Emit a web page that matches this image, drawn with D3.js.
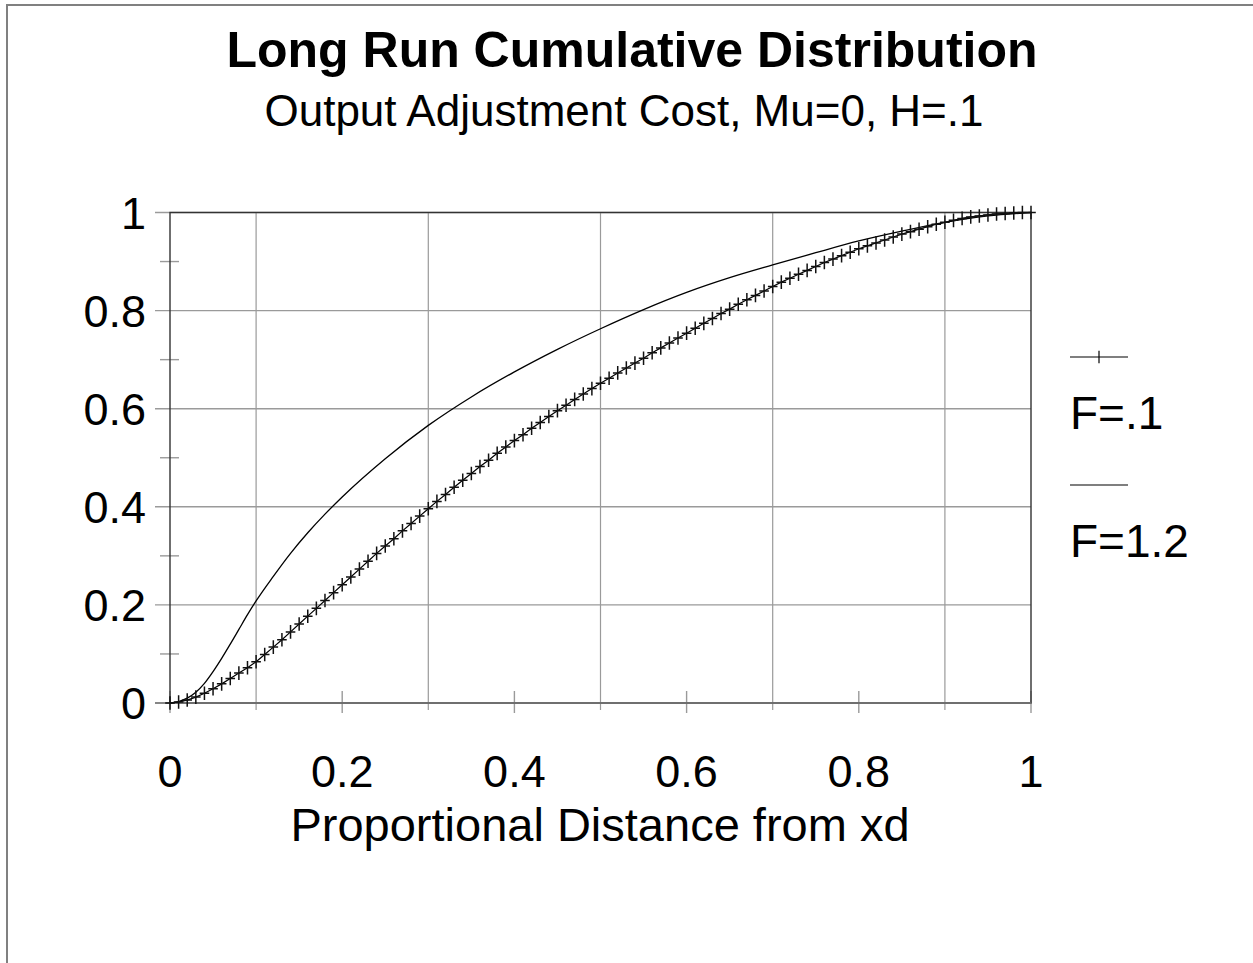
<!DOCTYPE html>
<html lang="en">
<head>
    <meta charset="UTF-8">
    <title>Long Run Cumulative Distribution</title>
    <script src="https://d3js.org/d3.v7.min.js"></script>
    <style>
        body { margin: 0; background: #fff; }
        svg { display: block; background: #fff; }
        text { font-family: "Liberation Sans", Arial, sans-serif; fill: #000; }
    </style>
</head>
<body>
    <svg width="1253" height="963"></svg>

    <script>
        // data
        const xTicks = [0, 0.2, 0.4, 0.6, 0.8, 1];
        const xLabels = ["0", "0.2", "0.4", "0.6", "0.8", "1"];
        const xGrid = [0.1, 0.3, 0.5, 0.7, 0.9];
        const yTicks = [0, 0.2, 0.4, 0.6, 0.8, 1];
        const yLabels = ["0", "0.2", "0.4", "0.6", "0.8", "1"];
        const yMinor = [0.1, 0.3, 0.5, 0.7, 0.9];

        const seriesNames = ["F=.1", "F=1.2"];

        // F=.1, one marker every 0.01
        const xF1 = [0, .01, .02, .03, .04, .05, .06, .07, .08, .09,
            .10, .11, .12, .13, .14, .15, .16, .17, .18, .19,
            .20, .21, .22, .23, .24, .25, .26, .27, .28, .29,
            .30, .31, .32, .33, .34, .35, .36, .37, .38, .39,
            .40, .41, .42, .43, .44, .45, .46, .47, .48, .49,
            .50, .51, .52, .53, .54, .55, .56, .57, .58, .59,
            .60, .61, .62, .63, .64, .65, .66, .67, .68, .69,
            .70, .71, .72, .73, .74, .75, .76, .77, .78, .79,
            .80, .81, .82, .83, .84, .85, .86, .87, .88, .89,
            .90, .91, .92, .93, .94, .95, .96, .97, .98, .99, 1];
        const yF1 = [0, .002, .006, .012, .020, .029, .039, .050, .061, .072,
            .084, .099, .114, .129, .145, .161, .177, .193, .209, .225,
            .241, .257, .273, .289, .305, .320, .335, .351, .366, .381,
            .396, .411, .425, .440, .454, .468, .482, .495, .509, .522,
            .535, .547, .560, .572, .584, .596, .607, .619, .630, .641,
            .652, .662, .673, .683, .693, .703, .714, .724, .734, .744,
            .754, .764, .774, .784, .794, .803, .813, .822, .831, .840,
            .849, .858, .866, .874, .882, .890, .898, .905, .912, .919,
            .926, .932, .938, .944, .950, .956, .961, .966, .971, .976,
            .980, .984, .988, .991, .993, .995, .997, .998, .999, 1, 1];

        // F=1.2, plain line
        const xF12 = [0, .01, .02, .03, .04, .05, .06, .07, .08, .09, .10, .12, .14, .16, .18, .20,
            .25, .30, .35, .40, .45, .50, .55, .60, .65, .70, .75, .80, .85, .90, .95, 1];
        const yF12 = [0, .003, .010, .022, .040, .064, .091, .120, .150, .180, .208, .258, .305, .347, .385, .420,
            .498, .566, .624, .675, .721, .763, .802, .837, .867, .893, .918, .942, .962, .980, .993, 1];

        const svg = d3.select("svg");
        const x = d3.scaleLinear().domain([0, 1]).range([170, 1031]);
        const y = d3.scaleLinear().domain([0, 1]).range([703, 212.5]);
        const gridColor = "#9a9a9a";

        // outer frame (only left and top edges are visible)
        svg.append("path")
            .attr("d", "M7,963 V5 H1253")
            .attr("fill", "none")
            .attr("stroke", "#808080")
            .attr("stroke-width", 2);

        // titles
        svg.append("text")
            .attr("x", 632).attr("y", 67)
            .attr("text-anchor", "middle")
            .style("font-size", "50px").style("font-weight", "bold")
            .text("Long Run Cumulative Distribution");
        svg.append("text")
            .attr("x", 624).attr("y", 126)
            .attr("text-anchor", "middle")
            .style("font-size", "44px")
            .text("Output Adjustment Cost, Mu=0, H=.1");

        // grid
        svg.append("g").selectAll("line").data(xGrid).join("line")
            .attr("x1", d => x(d)).attr("x2", d => x(d))
            .attr("y1", y(1)).attr("y2", y(0) + 7)
            .attr("stroke", gridColor).attr("stroke-width", 1.2);
        svg.append("g").selectAll("line").data(yTicks).join("line")
            .attr("x1", x(0) - 15).attr("x2", x(1))
            .attr("y1", d => y(d)).attr("y2", d => y(d))
            .attr("stroke", gridColor).attr("stroke-width", 1.4);
        svg.append("g").selectAll("line").data(yMinor).join("line")
            .attr("x1", x(0) - 10).attr("x2", x(0) + 9)
            .attr("y1", d => y(d)).attr("y2", d => y(d))
            .attr("stroke", gridColor).attr("stroke-width", 1.4);
        svg.append("g").selectAll("line").data(xTicks).join("line")
            .attr("x1", d => x(d)).attr("x2", d => x(d))
            .attr("y1", y(0) - 12).attr("y2", y(0) + 10)
            .attr("stroke", gridColor).attr("stroke-width", 1.4);

        // plot frame
        svg.append("rect")
            .attr("x", x(0)).attr("y", y(1))
            .attr("width", x(1) - x(0)).attr("height", y(0) - y(1))
            .attr("fill", "none").attr("stroke", "#333").attr("stroke-width", 1.4);
        svg.append("line")
            .attr("x1", x(0) - 15).attr("x2", x(1))
            .attr("y1", y(0)).attr("y2", y(0))
            .attr("stroke", "#777").attr("stroke-width", 1.6);

        // tick labels
        svg.append("g").selectAll("text").data(yTicks).join("text")
            .attr("x", 146).attr("y", d => y(d) + 16)
            .attr("text-anchor", "end")
            .style("font-size", "45px")
            .text((d, i) => yLabels[i]);
        svg.append("g").selectAll("text").data(xTicks).join("text")
            .attr("x", d => x(d)).attr("y", 787)
            .attr("text-anchor", "middle")
            .style("font-size", "45px")
            .text((d, i) => xLabels[i]);
        svg.append("text")
            .attr("x", 600).attr("y", 841)
            .attr("text-anchor", "middle")
            .style("font-size", "47px")
            .text("Proportional Distance from xd");

        // F=1.2
        svg.append("path")
            .datum(xF12.map((v, i) => [v, yF12[i]]))
            .attr("fill", "none").attr("stroke", "#000").attr("stroke-width", 1.3)
            .attr("d", d3.line().x(d => x(d[0])).y(d => y(d[1])).curve(d3.curveMonotoneX));

        // F=.1 line + "+" markers
        const f1 = xF1.map((v, i) => [v, yF1[i]]);
        svg.append("path")
            .datum(f1)
            .attr("fill", "none").attr("stroke", "#000").attr("stroke-width", 1.2)
            .attr("d", d3.line().x(d => x(d[0])).y(d => y(d[1])));
        const plus = (cx, cy, hw, hh) => `M${cx - hw},${cy}H${cx + hw}M${cx},${cy - hh}V${cy + hh}`;
        svg.append("path")
            .attr("fill", "none").attr("stroke", "#111").attr("stroke-width", 1.5)
            .attr("d", f1.map(d => plus(x(d[0]), y(d[1]), 4.8, 6.8)).join(""));

        // legend
        const lg = svg.append("g");
        lg.append("line").attr("x1", 1070).attr("x2", 1128).attr("y1", 357).attr("y2", 357)
            .attr("stroke", "#000").attr("stroke-width", 1.2);
        lg.append("path").attr("d", plus(1099, 357, 0, 6.3))
            .attr("stroke", "#000").attr("stroke-width", 1.2);
        lg.append("text").attr("x", 1070).attr("y", 429).style("font-size", "46px").text(seriesNames[0]);
        lg.append("line").attr("x1", 1070).attr("x2", 1128).attr("y1", 485).attr("y2", 485)
            .attr("stroke", "#000").attr("stroke-width", 1.2);
        lg.append("text").attr("x", 1070).attr("y", 557).style("font-size", "46px").text(seriesNames[1]);
    </script>
</body>
</html>
